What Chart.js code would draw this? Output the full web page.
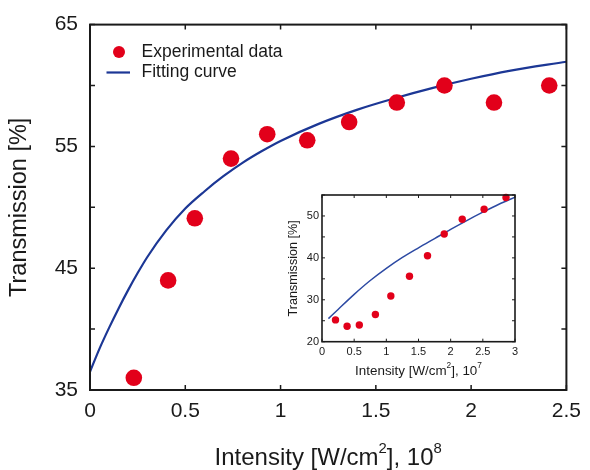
<!DOCTYPE html>
<html>
<head>
<meta charset="utf-8">
<script src="https://cdn.jsdelivr.net/npm/chart.js@4"></script>
<style>
  body { margin: 0; background: #fff; }
  #wrap { position: relative; width: 590px; height: 470px; }
  #mainChart { position: absolute; left: 0; top: 0; }
  #insetChart { position: absolute; left: 270px; top: 180px; }
</style>
</head>
<body>
<div id="wrap">
  <canvas id="mainChart" width="590" height="470"></canvas>
  <canvas id="insetChart" width="260" height="205"></canvas>
</div>
<script>
// main panel: intensity in 10^8 W/cm2, transmission in %
const mainIntensity = [0.23, 0.41, 0.55, 0.74, 0.93, 1.14, 1.36, 1.61, 1.86, 2.12, 2.41];
const mainTransmission = [36.0, 44.0, 49.1, 54.0, 56.0, 55.5, 57.0, 58.6, 60.0, 58.6, 60.0];
const mainFitX = [0, 0.05, 0.1, 0.15, 0.2, 0.25, 0.3, 0.4, 0.5, 0.6, 0.7, 0.8, 0.9, 1.0, 1.2, 1.4, 1.6, 1.8, 2.0, 2.2, 2.5];
const mainFitY = [36.5, 38.4, 40.1, 41.7, 43.2, 44.6, 45.9, 48.1, 49.9, 51.3, 52.55, 53.65, 54.6, 55.45, 56.85, 58.0, 58.95, 59.8, 60.55, 61.2, 61.95];
const mainXTicks = [0, 0.5, 1, 1.5, 2, 2.5];
const mainYTicks = [35, 40, 45, 50, 55, 60, 65];
const mainYLabels = [35, 45, 55, 65];

// inset panel: intensity in 10^7 W/cm2
const insetIntensity = [0.21, 0.39, 0.58, 0.83, 1.07, 1.36, 1.64, 1.90, 2.18, 2.52, 2.86];
const insetTransmission = [25.2, 23.7, 24.0, 26.5, 30.9, 35.6, 40.5, 45.7, 49.2, 51.6, 54.4];
const insetFitX = [0.1, 0.25, 0.5, 0.75, 1.0, 1.25, 1.5, 1.75, 2.0, 2.25, 2.5, 2.75, 3.0];
const insetFitY = [25.5, 27.7, 31.3, 34.6, 37.5, 40.1, 42.4, 44.6, 46.8, 48.9, 50.9, 52.8, 54.5];
const insetXTicks = [0, 0.5, 1, 1.5, 2, 2.5, 3];
const insetYTicks = [20, 25, 30, 35, 40, 45, 50, 55];
const insetYLabels = [20, 30, 40, 50];

const FONT = '"Liberation Sans", Arial, Helvetica, sans-serif';
const INK = '#1a1a1a';
const RED = '#e2001a';

function pts(xs, ys) {
    return xs.map((x, i) => ({ x: x, y: ys[i] }));
}

function drawRich(ctx, parts, cx, cy, size) {
    ctx.save();
    ctx.fillStyle = INK;
    ctx.textBaseline = 'middle';
    ctx.textAlign = 'left';
    let total = 0;
    parts.forEach(p => {
        ctx.font = (p.sup ? size * 0.62 : size) + 'px ' + FONT;
        p.w = ctx.measureText(p.t).width;
        total += p.w;
    });
    let x = cx - total / 2;
    parts.forEach(p => {
        ctx.font = (p.sup ? size * 0.62 : size) + 'px ' + FONT;
        ctx.fillText(p.t, x, p.sup ? cy - size * 0.4 : cy);
        x += p.w;
    });
    ctx.restore();
}

// frame, inward ticks, x title (with superscripts) and optional legend
function framePlugin(cfg) {
    return {
        id: 'frame',
        afterDraw(chart) {
            const ctx = chart.ctx;
            const a = chart.chartArea;
            const sx = chart.scales.x, sy = chart.scales.y;
            ctx.save();
            ctx.strokeStyle = INK;
            ctx.lineWidth = cfg.tickWidth;
            sx.ticks.forEach(t => {
                const px = sx.getPixelForValue(t.value);
                ctx.beginPath();
                ctx.moveTo(px, a.bottom); ctx.lineTo(px, a.bottom - cfg.tickLen);
                ctx.moveTo(px, a.top); ctx.lineTo(px, a.top + cfg.tickLen);
                ctx.stroke();
            });
            sy.ticks.forEach(t => {
                const py = sy.getPixelForValue(t.value);
                ctx.beginPath();
                ctx.moveTo(a.left, py); ctx.lineTo(a.left + cfg.tickLen, py);
                ctx.moveTo(a.right, py); ctx.lineTo(a.right - cfg.tickLen, py);
                ctx.stroke();
            });
            ctx.lineWidth = cfg.frameWidth;
            ctx.strokeRect(a.left, a.top, a.right - a.left, a.bottom - a.top);
            ctx.restore();

            drawRich(ctx, cfg.xTitle, (a.left + a.right) / 2, cfg.xTitleY, cfg.xTitleSize);

            if (cfg.legend) {
                const ds = chart.data.datasets;
                ctx.save();
                ctx.font = cfg.legend.size + 'px ' + FONT;
                ctx.textBaseline = 'middle';
                ctx.beginPath();
                ctx.arc(cfg.legend.x, cfg.legend.y1, 6, 0, Math.PI * 2);
                ctx.fillStyle = ds[0].backgroundColor;
                ctx.fill();
                ctx.fillStyle = INK;
                ctx.fillText(ds[0].label, cfg.legend.textX, cfg.legend.y1);
                ctx.strokeStyle = ds[1].borderColor;
                ctx.lineWidth = 2.2;
                ctx.beginPath();
                ctx.moveTo(cfg.legend.x - 12.5, cfg.legend.y2);
                ctx.lineTo(cfg.legend.x + 11, cfg.legend.y2);
                ctx.stroke();
                ctx.fillText(ds[1].label, cfg.legend.textX, cfg.legend.y2);
                ctx.restore();
            }
        }
    };
}

new Chart(document.getElementById('mainChart').getContext('2d'), {
    type: 'scatter',
    data: {
        datasets: [{
            label: 'Experimental data',
            data: pts(mainIntensity, mainTransmission),
            backgroundColor: RED,
            borderWidth: 0,
            pointRadius: 8.3,
            clip: false
        }, {
            type: 'line',
            label: 'Fitting curve',
            data: pts(mainFitX, mainFitY),
            borderColor: '#1c3795',
            borderWidth: 2.2,
            pointRadius: 0,
            fill: false,
            cubicInterpolationMode: 'monotone'
        }]
    },
    options: {
        responsive: false,
        animation: false,
        layout: { padding: { top: 23, right: 20, left: 0, bottom: 0 } },
        scales: {
            x: {
                type: 'linear',
                min: 0,
                max: 2.5,
                grid: { display: false, drawTicks: false },
                border: { display: false },
                afterBuildTicks: s => { s.ticks = mainXTicks.map(v => ({ value: v })); },
                afterFit: s => { s.height = 80; },
                ticks: {
                    autoSkip: false,
                    maxRotation: 0,
                    padding: 9,
                    color: INK,
                    font: { family: FONT, size: 21 },
                    callback: v => String(v)
                }
            },
            y: {
                min: 35,
                max: 65,
                grid: { display: false, drawTicks: false },
                border: { display: false },
                afterBuildTicks: s => { s.ticks = mainYTicks.map(v => ({ value: v })); },
                afterFit: s => { s.width = 90; },
                ticks: {
                    padding: 12,
                    color: INK,
                    font: { family: FONT, size: 21 },
                    callback: v => mainYLabels.includes(v) ? String(v) : ''
                },
                title: {
                    display: true,
                    text: 'Transmission [%]',
                    color: INK,
                    font: { family: FONT, size: 23.5 },
                    padding: { top: 5, bottom: 0 }
                }
            }
        },
        plugins: {
            legend: { display: false },
            tooltip: { enabled: false }
        }
    },
    plugins: [framePlugin({
        tickLen: 5,
        tickWidth: 1.5,
        frameWidth: 2,
        xTitle: [{ t: 'Intensity [W/cm' }, { t: '2', sup: true }, { t: '], 10' }, { t: '8', sup: true }],
        xTitleY: 458,
        xTitleSize: 24,
        legend: { x: 119, y1: 52, y2: 72.5, textX: 141.5, size: 17.5 }
    })]
});

new Chart(document.getElementById('insetChart').getContext('2d'), {
    type: 'scatter',
    data: {
        datasets: [{
            label: 'Experimental data',
            data: pts(insetIntensity, insetTransmission),
            backgroundColor: RED,
            borderWidth: 0,
            pointRadius: 3.7,
            clip: false
        }, {
            type: 'line',
            label: 'Fitting curve',
            data: pts(insetFitX, insetFitY),
            borderColor: '#2d4aa3',
            borderWidth: 1.5,
            pointRadius: 0,
            fill: false,
            cubicInterpolationMode: 'monotone'
        }]
    },
    options: {
        responsive: false,
        animation: false,
        layout: { padding: { top: 15, right: 15, left: 0, bottom: 0 } },
        scales: {
            x: {
                type: 'linear',
                min: 0,
                max: 3,
                grid: { display: false, drawTicks: false },
                border: { display: false },
                afterBuildTicks: s => { s.ticks = insetXTicks.map(v => ({ value: v })); },
                afterFit: s => { s.height = 43.3; },
                ticks: {
                    autoSkip: false,
                    maxRotation: 0,
                    padding: 4,
                    color: INK,
                    font: { family: FONT, size: 11 },
                    callback: v => String(v)
                }
            },
            y: {
                min: 20,
                max: 55,
                grid: { display: false, drawTicks: false },
                border: { display: false },
                afterBuildTicks: s => { s.ticks = insetYTicks.map(v => ({ value: v })); },
                afterFit: s => { s.width = 52; },
                ticks: {
                    padding: 3,
                    color: INK,
                    font: { family: FONT, size: 11 },
                    callback: v => insetYLabels.includes(v) ? String(v) : ''
                },
                title: {
                    display: true,
                    text: 'Transmission [%]',
                    color: INK,
                    font: { family: FONT, size: 12.6 },
                    padding: { top: 15.5, bottom: 0 }
                }
            }
        },
        plugins: {
            legend: { display: false },
            tooltip: { enabled: false }
        }
    },
    plugins: [framePlugin({
        tickLen: 3,
        tickWidth: 1,
        frameWidth: 1.6,
        xTitle: [{ t: 'Intensity [W/cm' }, { t: '2', sup: true }, { t: '], 10' }, { t: '7', sup: true }],
        xTitleY: 191,
        xTitleSize: 13.4
    })]
});
</script>
</body>
</html>
